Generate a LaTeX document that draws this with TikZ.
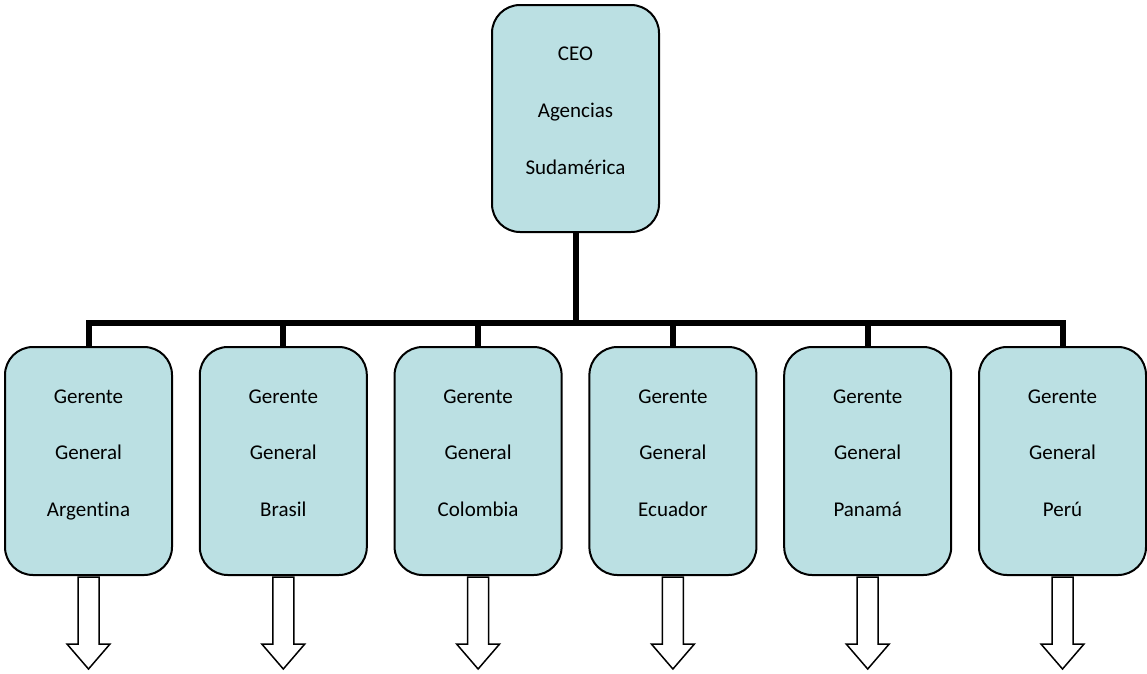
\documentclass[tikz,border=0pt]{standalone}
\usepackage{fontspec}
\setmainfont{Carlito}[Ligatures=NoCommon]
\usetikzlibrary{calc}
\definecolor{boxfill}{RGB}{187,224,227}
\tikzset{
  orgbox/.style={draw=black, line width=2pt, fill=boxfill, rounded corners=28pt,
    minimum width=167pt, minimum height=228pt, inner sep=0pt},
  txt/.style={anchor=base, font=\fontsize{21}{24}\selectfont, inner sep=0pt},
  bar/.style={line width=6pt, line join=miter},
  blockarrow/.style={draw=black, fill=white, line width=1.5pt, line join=miter}
}
\begin{document}
\begin{tikzpicture}[x=1pt,y=-1pt]
\useasboundingbox (0,0) rectangle (1147,673);
\node[orgbox, minimum height=227pt] (ceo) at (575.5,118.5) {};
\node[txt] (ceo1) at ($(ceo.center)+(0,-58)$) {CEO};
\node[txt] (ceo2) at ($(ceo.center)+(0,-1.5)$) {Agencias};
\node[txt] (ceo3) at ($(ceo.center)+(0,55.5)$) {Sudamérica};
\coordinate (bar) at (575.5,323);
\draw[bar] (ceo.south) -- (bar);
\foreach \i/\x/\c in {1/88.5/Argentina,2/283.3/Brasil,3/478.1/Colombia,4/672.9/Ecuador,5/867.7/Panamá,6/1062.5/Perú}{
  \node[orgbox] (b\i) at (\x,461) {};
  \node[txt] (b\i l1) at ($(b\i.center)+(0,-58)$) {Gerente};
  \node[txt] (b\i l2) at ($(b\i.center)+(0,-1.5)$) {General};
  \node[txt] (b\i l3) at ($(b\i.center)+(0,55.5)$) {\c};
  \draw[blockarrow] ($(b\i.south)+(-10.5,1)$) -- ++(0,67) -- ++(-11,0) -- ($(b\i.south)+(0,93)$)
     -- ($(b\i.south)+(21.5,68)$) -- ++(-11,0) -- ($(b\i.south)+(10.5,1)$) -- cycle;
}
\draw[bar] (b1.north) |- (b6.north |- bar) -- (b6.north);
\foreach \i in {2,3,4,5}{
  \draw[bar] (b\i.north) -- (b\i.north |- bar);
}
\end{tikzpicture}
\end{document}
